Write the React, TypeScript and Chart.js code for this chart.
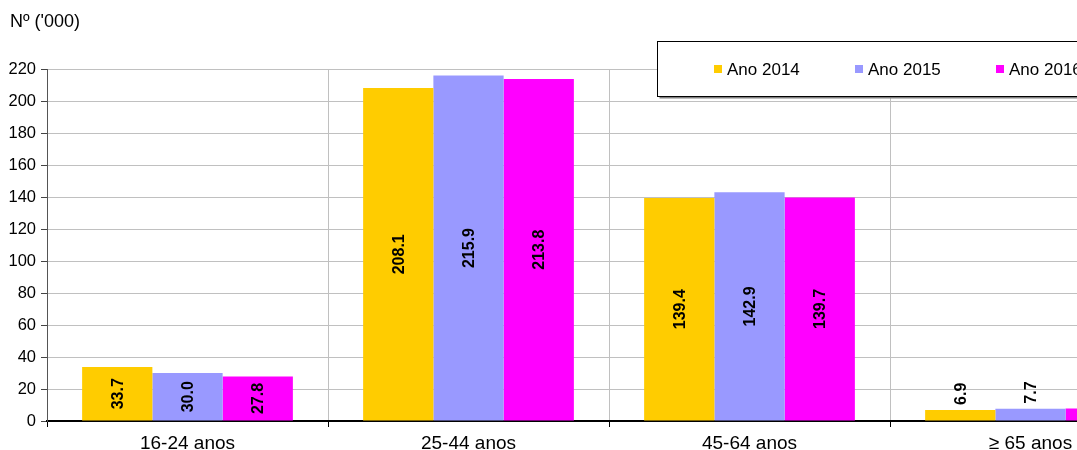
import React, { useEffect, useRef } from "react";
import { Chart, registerables } from "chart.js";

Chart.register(...registerables);

const categories = ["16-24 anos", "25-44 anos", "45-64 anos", "≥ 65 anos"];
const seriesNames = ["Ano 2014", "Ano 2015", "Ano 2016"];
const values2014 = [33.7, 208.1, 139.4, 6.9];
const values2015 = [30.0, 215.9, 142.9, 7.7];
const values2016 = [27.8, 213.8, 139.7, 7.8];
const colors = ["#FFCC00", "#9999FF", "#FF00FF"];
const yTicks = [0, 20, 40, 60, 80, 100, 120, 140, 160, 180, 200, 220];
const titleText = "Nº ('000)";

const FONT = "'Liberation Sans', Arial, Helvetica, sans-serif";

const labelPlugin = {
  id: "barLabels",
  afterDatasetsDraw(chart: any) {
    const ctx = chart.ctx;
    ctx.save();
    ctx.font = `bold 16px ${FONT}`;
    ctx.fillStyle = "#000";
    ctx.textAlign = "center";
    ctx.textBaseline = "middle";
    chart.data.datasets.forEach((ds: any, di: number) => {
      const meta = chart.getDatasetMeta(di);
      meta.data.forEach((bar: any, i: number) => {
        const v = ds.data[i];
        const txt = v.toFixed(1);
        const w = ctx.measureText(txt).width;
        const h = bar.base - bar.y;
        let cy;
        if (h > w + 8) cy = (bar.y + bar.base) / 2;
        else cy = bar.y - 5 - w / 2;
        ctx.save();
        ctx.translate(bar.x, cy);
        ctx.rotate(-Math.PI / 2);
        ctx.fillText(txt, 0, 1);
        ctx.restore();
      });
    });
    ctx.restore();
  },
  afterDraw(chart: any) {
    const ctx = chart.ctx;
    ctx.save();
    // title
    ctx.font = `18px ${FONT}`;
    ctx.fillStyle = "#000";
    ctx.textAlign = "left";
    ctx.textBaseline = "middle";
    ctx.fillText(titleText, 10, 22);
    // legend box
    const bx = 657.5, by = 41.5, bw = 460, bh = 55;
    ctx.fillStyle = "#808080";
    ctx.fillRect(bx + 2, by + 2, bw, bh);
    ctx.fillStyle = "#fff";
    ctx.fillRect(bx, by, bw, bh);
    ctx.strokeStyle = "#000";
    ctx.lineWidth = 1;
    ctx.strokeRect(bx, by, bw, bh);
    ctx.font = `17px ${FONT}`;
    chart.data.datasets.forEach((ds: any, di: number) => {
      const x = 714 + di * 141;
      ctx.fillStyle = ds.backgroundColor;
      ctx.fillRect(x, 65, 8, 8);
      ctx.fillStyle = "#000";
      ctx.fillText(ds.label, x + 13, 70);
    });
    ctx.restore();
  },
};

export default function App() {
  const ref = useRef<HTMLCanvasElement>(null);
  useEffect(() => {
    document.body.style.margin = "0";
    document.body.style.overflow = "hidden";
    const chart = new Chart(ref.current!, {
      type: "bar",
      data: {
        labels: categories,
        datasets: [values2014, values2015, values2016].map((d, i) => ({
          label: seriesNames[i],
          data: d,
          backgroundColor: colors[i],
          borderWidth: 0,
          categoryPercentage: 0.75,
          barPercentage: 1.0,
        })),
      },
      options: {
        animation: false,
        responsive: false,
        maintainAspectRatio: false,
        layout: { padding: { top: 69, right: 9, left: 0, bottom: 0 } },
        plugins: { legend: { display: false }, tooltip: { enabled: false }, title: { display: false } },
        scales: {
          x: {
            offset: true,
            grid: { display: true, offset: true, color: "#c0c0c0", tickColor: "#000", tickLength: 6, lineWidth: 1 },
            border: { display: true, color: "#000", width: 2 },
            ticks: { color: "#000", font: { family: FONT, size: 19 }, padding: 5, maxRotation: 0 },
            afterFit: (s: any) => { s.height = 29; },
          },
          y: {
            min: 0,
            max: 220,
            afterBuildTicks: (s: any) => { s.ticks = yTicks.map((v) => ({ value: v })); },
            grid: { color: "#c0c0c0", tickColor: "#444", tickLength: 6 },
            border: { display: true, color: "#555", width: 1 },
            ticks: { color: "#000", font: { family: FONT, size: 16.5 }, padding: 5 },
            afterFit: (s: any) => { s.width = 47; },
          },
        },
      },
      plugins: [labelPlugin],
    });
    return () => chart.destroy();
  }, []);
  return (
    <div style={{ position: "fixed", left: 0, top: 0, width: 1180, height: 450 }}>
      <canvas ref={ref} width={1180} height={450} style={{ width: 1180, height: 450 }} />
    </div>
  );
}
